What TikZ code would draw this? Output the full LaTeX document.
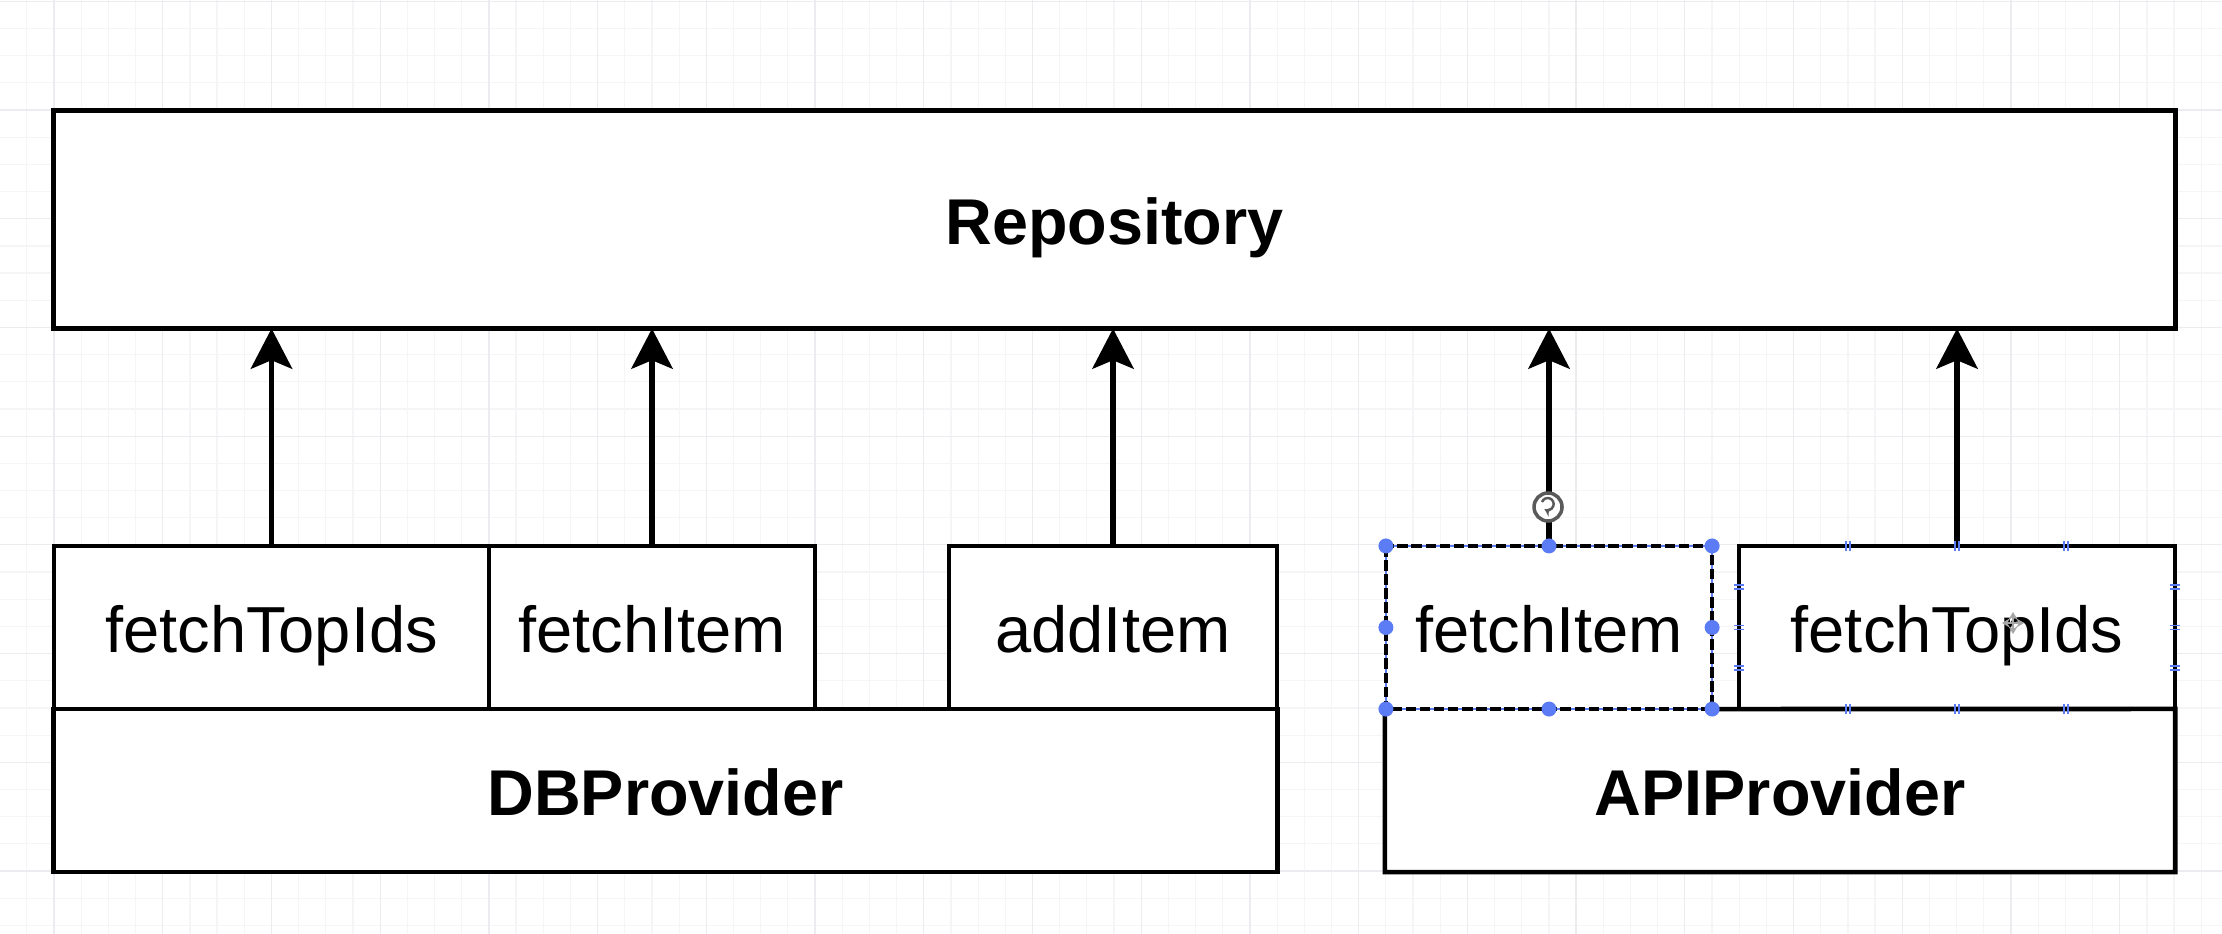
\documentclass[tikz,border=0pt]{standalone}
\usepackage{fontspec}
\setmainfont{Liberation Sans}
\usetikzlibrary{arrows.meta}
\definecolor{gridminor}{HTML}{F5F5F8}
\definecolor{gridmajor}{HTML}{EBEBF0}
\definecolor{selblue}{HTML}{5B7CF5}
\definecolor{icongray}{HTML}{5A5A5A}
\begin{document}
\begin{tikzpicture}[x=0.01cm,y=-0.01cm,
  box/.style={draw=black, line width=1.3pt, fill=white, rectangle, inner sep=0pt, outer sep=0pt,
    text height=14pt, text depth=0pt, font=\fontsize{18.5}{21}\selectfont},
  titlebox/.style={box, font=\fontsize{18.4}{21}\selectfont\bfseries},
  link/.style={line width=1.7pt, -{Stealth[length=11.4pt,width=11.7pt,inset=2.4pt]}},
  tick/.style={selblue, line width=0.5pt},
]
\useasboundingbox (0,0) rectangle (2222,934);
\fill[white] (0,0) rectangle (2222,934);
% background grid
\foreach \i in {-2,...,79} {
  \draw[gridminor, line width=0.35pt] ({54+27.18*\i},0) -- ({54+27.18*\i},934);
}
\foreach \i in {-4,...,30} {
  \draw[gridminor, line width=0.35pt] (0,{110+27.18*\i}) -- (2222,{110+27.18*\i});
}
\foreach \i in {0,...,20} {
  \draw[gridmajor, line width=0.35pt] ({54+108.72*(\i-0)},0) -- ({54+108.72*(\i-0)},934);
}
\foreach \i in {-1,...,7} {
  \draw[gridmajor, line width=0.35pt] (0,{110+108.72*\i}) -- (2222,{110+108.72*\i});
}

% boxes
\node[titlebox, minimum width=21.21cm, minimum height=2.18cm] (repo) at (1114.5,219.5) {Repository};

\node[box, minimum width=4.35cm, minimum height=1.63cm] (dbtop) at (271.5,627.5) {fetchTopIds};
\node[box, minimum width=3.26cm, minimum height=1.63cm] (dbitem) at (652,627.5) {fetchItem};
\node[box, minimum width=3.28cm, minimum height=1.63cm] (dbadd) at (1113,627.5) {addItem};
\node[titlebox, minimum width=12.23cm, minimum height=1.63cm] (db) at (665.5,790.5) {DBProvider};

\node[titlebox, draw=none, minimum width=7.9cm, minimum height=1.63cm] (api) at (1780,790.5) {APIProvider};
\node[box, minimum width=4.36cm, minimum height=1.63cm] (apitop) at (1957,627.5) {fetchTopIds};
\node[box, draw=none, minimum width=3.26cm, minimum height=1.63cm] (apiitem) at (1549,627.5) {fetchItem};
\draw[line width=1.3pt, line join=miter] (apiitem.south east) -- (api.north east) -- (api.south east)
  -- (api.south west) -- (api.north west);

% selected box outline
\draw[selblue, line width=0.6pt] (apiitem.north west) rectangle (apiitem.south east);
\draw[black, line width=1.1pt, dash pattern=on 3pt off 1pt] (apiitem.north west) rectangle (apiitem.south east);

% connectors
\foreach \n in {dbtop,dbitem,dbadd,apiitem,apitop}
  \draw[link] (\n.north) -- (\n.north |- repo.south);

% selection handles
\foreach \a in {north west,north,north east,west,east,south west,south,south east}
  \fill[selblue] (apiitem.\a) circle[radius=0.075cm];

% connection point marks on fetchTopIds (right)
\foreach \t in {0.25,0.5,0.75} {
  \draw[tick] ({1739+436*\t-2},541) -- ({1739+436*\t-2},551) ({1739+436*\t+2},541) -- ({1739+436*\t+2},551);
  \draw[tick] ({1739+436*\t-2},704) -- ({1739+436*\t-2},714) ({1739+436*\t+2},704) -- ({1739+436*\t+2},714);
  \draw[tick] (1734,{546+163*\t-2}) -- (1744,{546+163*\t-2}) (1734,{546+163*\t+2}) -- (1744,{546+163*\t+2});
  \draw[tick] (2170,{546+163*\t-2}) -- (2180,{546+163*\t-2}) (2170,{546+163*\t+2}) -- (2180,{546+163*\t+2});
}

% rotate icon
\node[circle, draw=icongray, fill=white, line width=1pt, minimum size=0.28cm, inner sep=0pt] (rot) at (1548,507) {};
\draw[icongray, line width=0.7pt, -{Stealth[length=2pt,width=2.5pt]}] (1542,502) arc[start angle=160, end angle=-120, radius=0.06cm];

% move cursor
\coordinate (cur) at (2013,623);
\draw[gray!70, line width=0.6pt, {Stealth[length=2.2pt,width=2.6pt]}-{Stealth[length=2.2pt,width=2.6pt]}] (2002,623) -- (2024,623);
\draw[gray!70, line width=0.6pt, {Stealth[length=2.2pt,width=2.6pt]}-{Stealth[length=2.2pt,width=2.6pt]}] (2013,612) -- (2013,634);
\end{tikzpicture}
\end{document}
